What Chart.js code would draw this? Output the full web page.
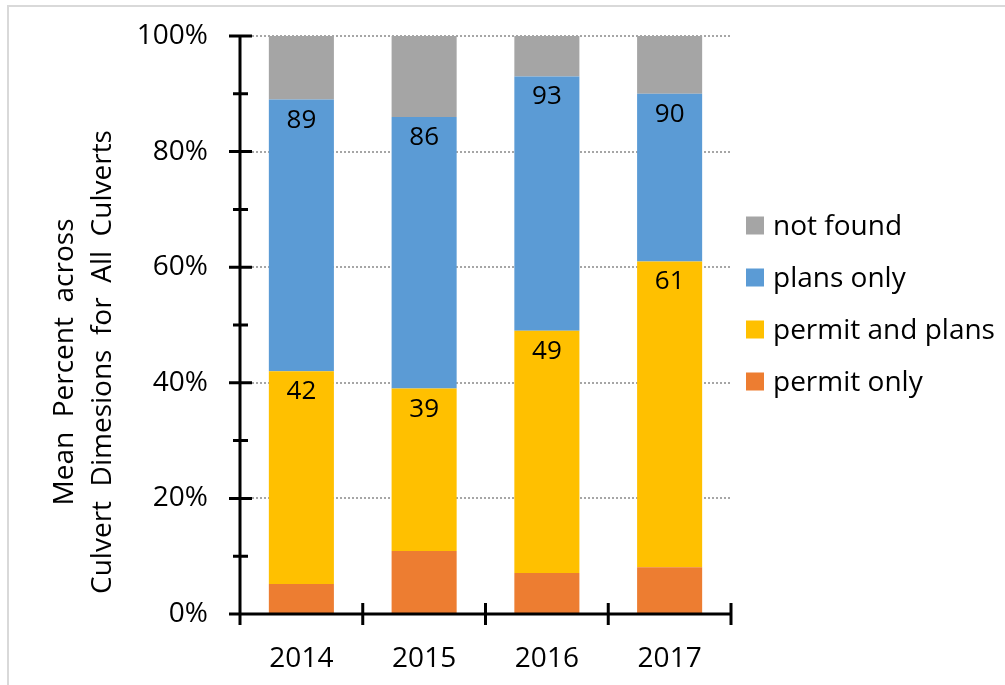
<!DOCTYPE html>
<html>
<head>
<meta charset="utf-8">
<title>Mean percent across culvert dimensions</title>
<script src="https://cdn.jsdelivr.net/npm/chart.js@4.4.1/dist/chart.umd.min.js"></script>
<style>
  html, body { margin: 0; padding: 0; background: #fff; }
  #frame { position: absolute; left: 7px; top: 5px; width: 1100px; height: 800px;
           border-left: 2px solid #d9d9d9; border-top: 2px solid #d9d9d9; }
  #chart { position: absolute; left: 0; top: 0; }
</style>
</head>
<body>
<div id="frame"></div>
<canvas id="chart" width="1005" height="685"></canvas>
<script>
const years = ['2014', '2015', '2016', '2017'];

// cumulative top of each stacked segment (percent)
const permitOnlyTop = [5.2, 10.9, 7.1, 8.1];
const permitPlansTop = [42, 39, 49, 61];
const plansOnlyTop = [89, 86, 93, 90];
const notFoundTop = [100, 100, 100, 100];

const yTickValues = [0, 20, 40, 60, 80, 100];
const yMinorTicks = [10, 30, 50, 70, 90];

const FONT = "'Open Sans', sans-serif";
Chart.defaults.font.family = FONT;
Chart.defaults.color = '#000';

function segment(top, below) {
  return top.map((v, i) => +(v - below[i]).toFixed(1));
}

// black axis lines with ticks crossing both sides, like the spreadsheet look
const axesPlugin = {
  id: 'crossAxes',
  afterDatasetsDraw(chart) {
    const { ctx, chartArea: a, scales: { x, y } } = chart;
    const step = x.getPixelForValue(1) - x.getPixelForValue(0);
    ctx.save();
    ctx.strokeStyle = '#000';
    ctx.lineWidth = 3;
    ctx.beginPath();
    ctx.moveTo(a.left, y.getPixelForValue(100));
    ctx.lineTo(a.left, a.bottom);
    ctx.moveTo(a.left, a.bottom);
    ctx.lineTo(a.right, a.bottom);
    yTickValues.forEach(v => {
      const py = y.getPixelForValue(v);
      ctx.moveTo(a.left - 11, py);
      ctx.lineTo(a.left + 12, py);
    });
    yMinorTicks.forEach(v => {
      const py = y.getPixelForValue(v);
      ctx.moveTo(a.left - 7, py);
      ctx.lineTo(a.left + 8, py);
    });
    for (let i = 0; i <= years.length; i++) {
      const px = x.getPixelForValue(0) - step / 2 + i * step;
      ctx.moveTo(px, a.bottom - 11);
      ctx.lineTo(px, a.bottom + 11);
    }
    ctx.stroke();
    ctx.restore();
  }
};

// cumulative value printed just under the top of a segment
const topLabelPlugin = {
  id: 'topLabels',
  afterDatasetsDraw(chart) {
    const { ctx } = chart;
    ctx.save();
    ctx.font = '26px ' + FONT;
    ctx.fillStyle = '#000';
    ctx.textAlign = 'center';
    ctx.textBaseline = 'alphabetic';
    chart.data.datasets.forEach((ds, di) => {
      if (!ds.labelTops) return;
      chart.getDatasetMeta(di).data.forEach((bar, i) => {
        ctx.fillText(String(ds.labelTops[i]), bar.x, bar.y + 28);
      });
    });
    ctx.restore();
  }
};

// legend on the right, last series first
const legendPlugin = {
  id: 'sideLegend',
  afterDraw(chart) {
    const { ctx } = chart;
    const items = chart.data.datasets.slice().reverse();
    ctx.save();
    ctx.font = '28px ' + FONT;
    ctx.textBaseline = 'middle';
    ctx.textAlign = 'left';
    items.forEach((ds, i) => {
      const cy = 225.5 + i * 52;
      ctx.fillStyle = ds.backgroundColor;
      ctx.fillRect(746, cy - 9, 18, 18);
      ctx.fillStyle = '#000';
      ctx.fillText(ds.label, 773, cy + 2);
    });
    ctx.restore();
  }
};

// two-line rotated y axis title
const yTitlePlugin = {
  id: 'yTitle',
  afterDraw(chart) {
    const { ctx } = chart;
    const lines = ['Mean  Percent  across', 'Culvert  Dimesions  for  All  Culverts'];
    const xs = [73, 111];
    ctx.save();
    ctx.font = '28px ' + FONT;
    ctx.fillStyle = '#000';
    ctx.textAlign = 'center';
    ctx.textBaseline = 'alphabetic';
    lines.forEach((t, i) => {
      ctx.save();
      ctx.translate(xs[i], 362);
      ctx.rotate(-Math.PI / 2);
      ctx.fillText(t, 0, 0);
      ctx.restore();
    });
    ctx.restore();
  }
};

new Chart(document.getElementById('chart'), {
  type: 'bar',
  data: {
    labels: years,
    datasets: [
      { label: 'permit only', data: permitOnlyTop, backgroundColor: '#ed7d31' },
      { label: 'permit and plans', data: segment(permitPlansTop, permitOnlyTop),
        backgroundColor: '#ffc000', labelTops: permitPlansTop },
      { label: 'plans only', data: segment(plansOnlyTop, permitPlansTop),
        backgroundColor: '#5b9bd5', labelTops: plansOnlyTop },
      { label: 'not found', data: segment(notFoundTop, plansOnlyTop), backgroundColor: '#a5a5a5' }
    ]
  },
  options: {
    responsive: false,
    animation: false,
    events: [],
    categoryPercentage: 1,
    barPercentage: 0.53,
    layout: { autoPadding: false, padding: { top: 36, right: 274, bottom: 0, left: 0 } },
    plugins: { legend: { display: false }, tooltip: { enabled: false } },
    scales: {
      x: {
        stacked: true,
        grid: { display: false },
        border: { display: false },
        ticks: { font: { size: 28 }, padding: 20, color: '#000' },
        afterFit: s => { s.height = 71; }
      },
      y: {
        stacked: true,
        min: 0,
        max: 100,
        afterBuildTicks: s => { s.ticks = yTickValues.map(v => ({ value: v })); },
        afterFit: s => {
          s.width = 240;
          // tick labels sit in the fixed top padding, no extra room needed
          s.paddingTop = 0;
          s.paddingBottom = 0;
        },
        grid: {
          drawTicks: false,
          lineWidth: 2,
          color: c => (c.tick && c.tick.value === 0 ? 'rgba(0,0,0,0)' : '#a6a6a6')
        },
        border: { display: false, dash: [2, 2] },
        ticks: { font: { size: 28 }, padding: 32, color: '#000', callback: v => v + '%' }
      }
    }
  },
  plugins: [axesPlugin, topLabelPlugin, legendPlugin, yTitlePlugin]
});
</script>
</body>
</html>
